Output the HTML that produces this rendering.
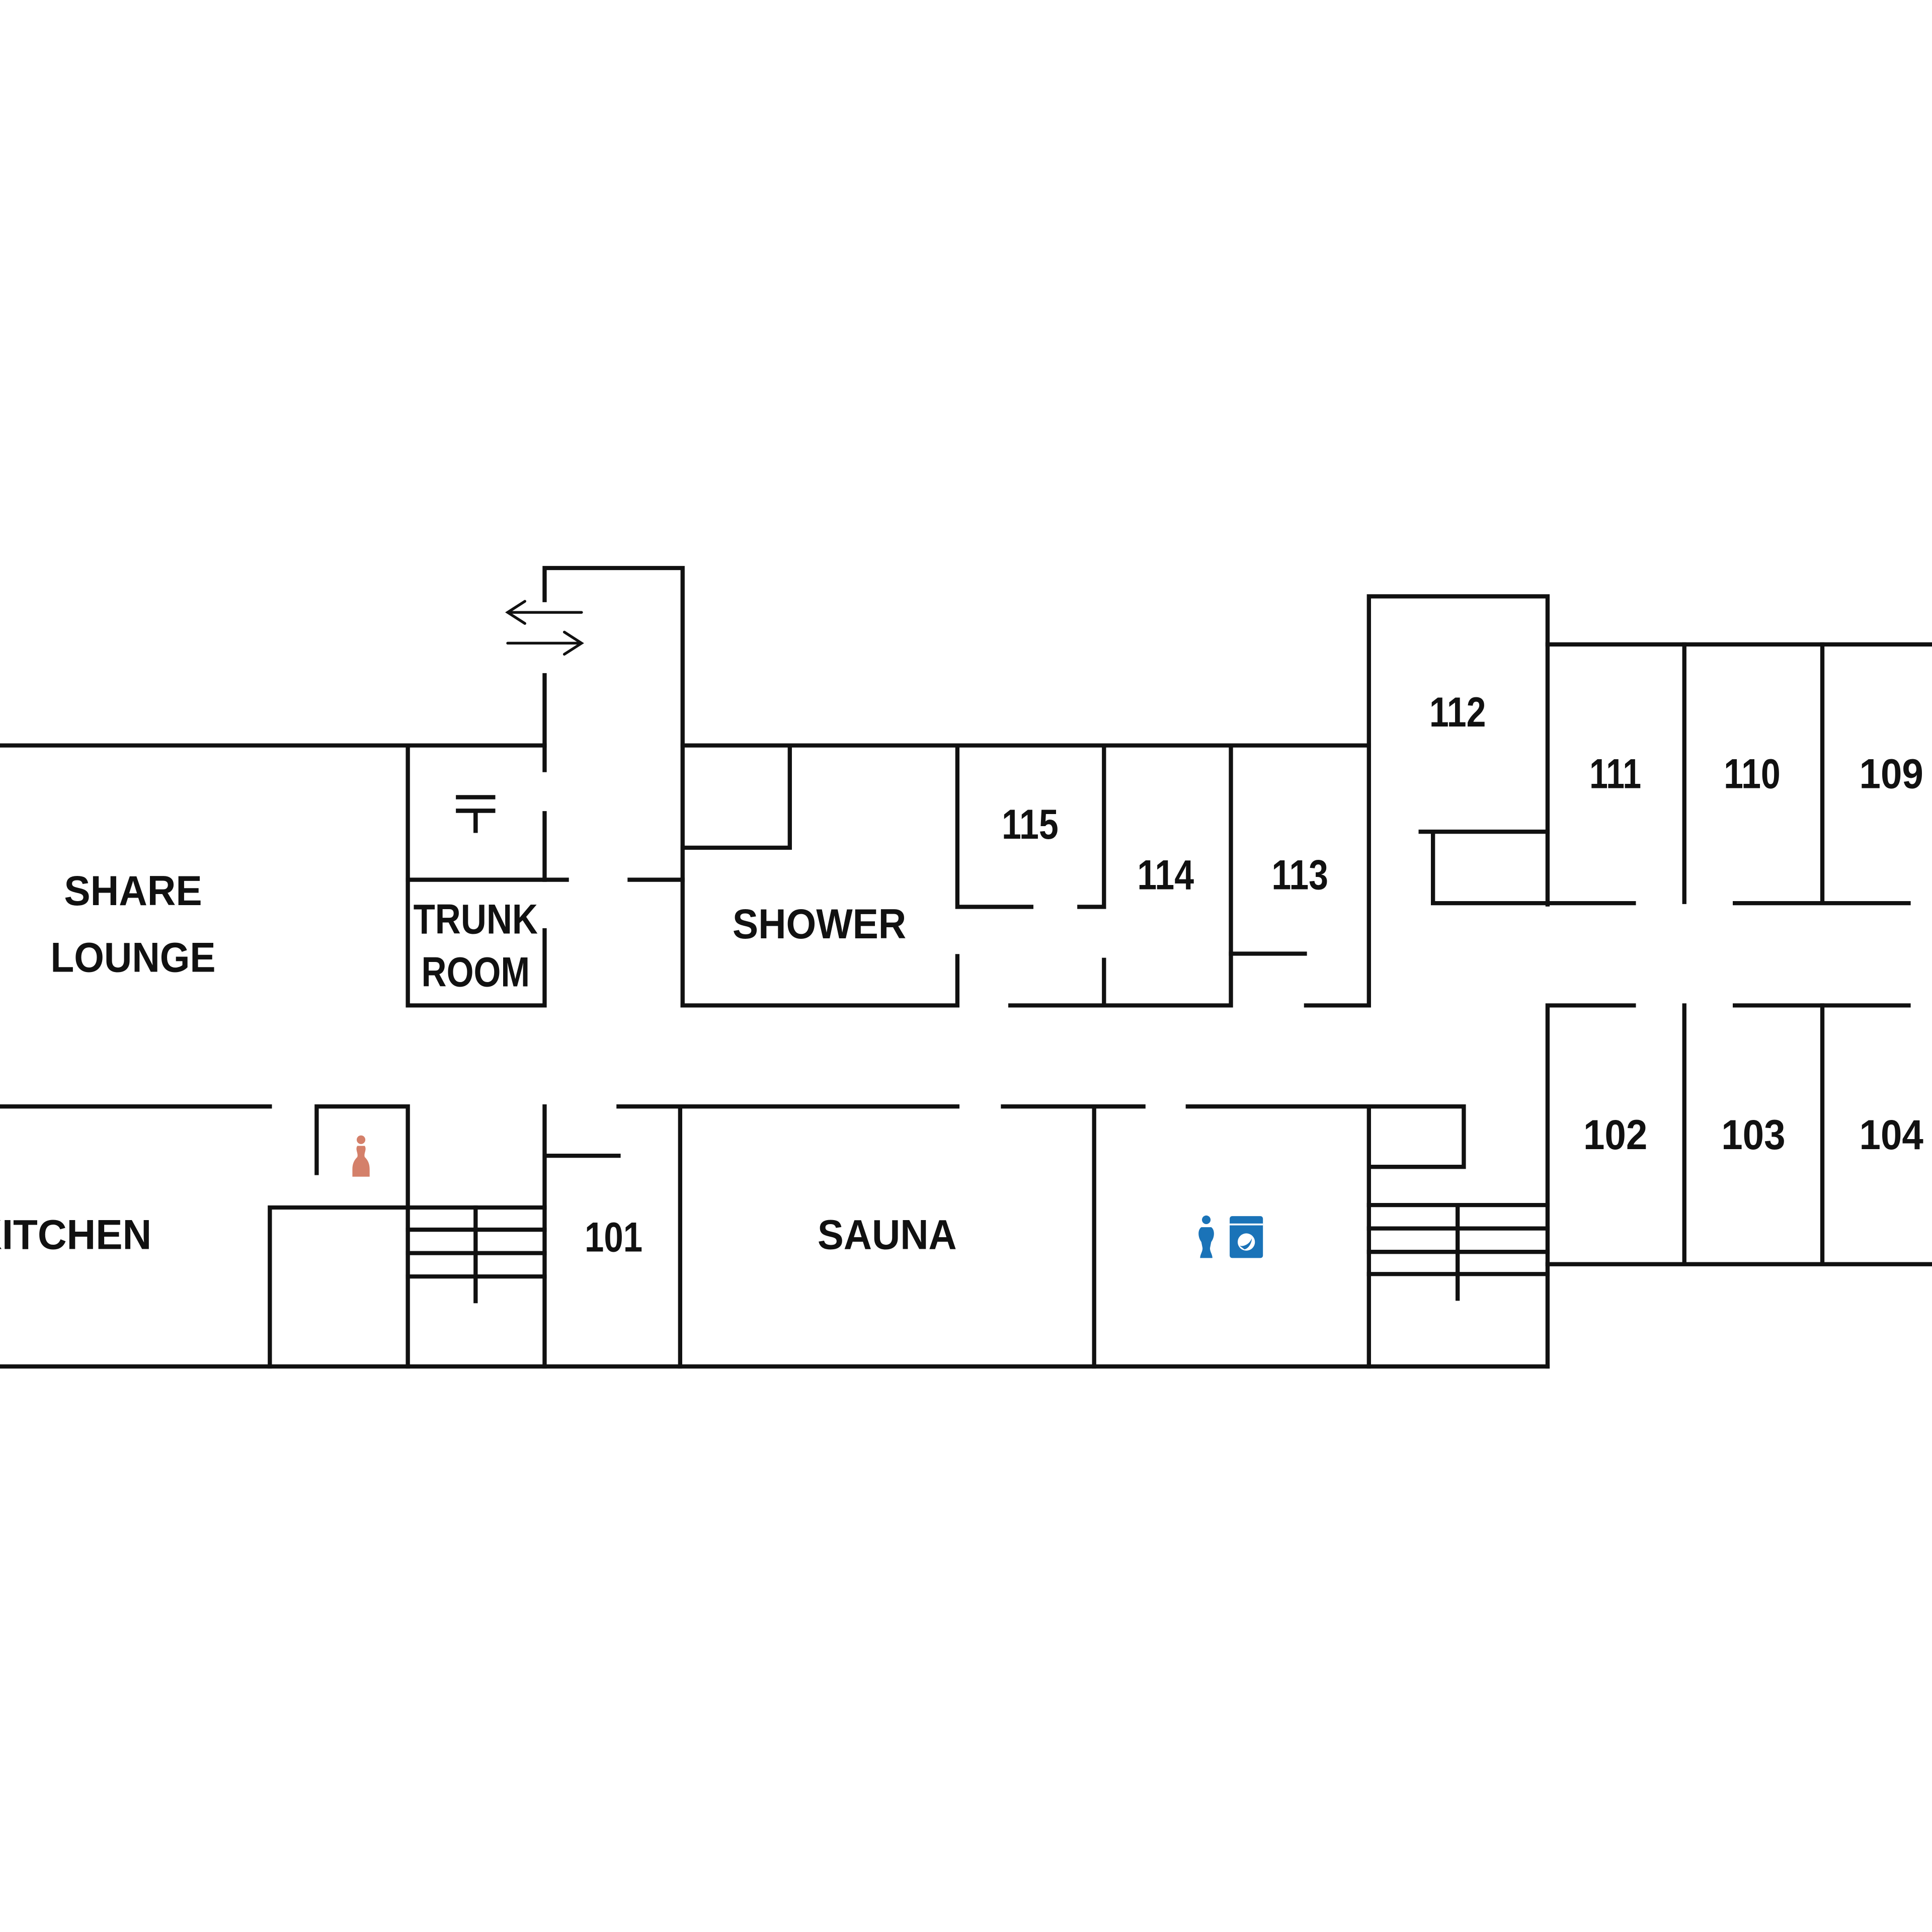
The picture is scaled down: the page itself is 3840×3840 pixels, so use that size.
<!DOCTYPE html>
<html><head><meta charset="utf-8"><style>
html,body{margin:0;padding:0;background:#fff;}
svg{display:block;}
text{font-family:"Liberation Sans Narrow","Liberation Sans",sans-serif;font-weight:bold;fill:#111;text-anchor:middle;dominant-baseline:central;}
</style></head><body>
<svg width="3840" height="3840" viewBox="0 0 1568 1568" xmlns="http://www.w3.org/2000/svg">
<rect width="1568" height="1568" fill="#fff"/>
<g stroke="#111" stroke-width="3.4" fill="none" stroke-linecap="square">
<path d="M0 605H442"/>
<path d="M442 487V461H554V816"/>
<path d="M442 548V625M442 660V714"/>
<path d="M331 605V816H442V755"/>
<path d="M331 714H460M511 714H554"/>
<path d="M554 605H1111"/>
<path d="M554 688H641V605"/>
<path d="M554 816H777V776"/>
<path d="M777 605V736H837"/>
<path d="M896 605V736H876"/>
<path d="M820 816H999V605"/>
<path d="M896 779V816"/>
<path d="M999 774H1059"/>
<path d="M1060 816H1111V484H1256V734"/>
<path d="M1256 523H1568"/>
<path d="M1153 675H1256M1163 675V733H1326"/>
<path d="M1367 523V732M1479 523V733M1408 733H1549"/>
<path d="M1326 816H1256V1109M1408 816H1549"/>
<path d="M1367 816V1026M1479 816V1026M1256 1026H1568"/>
<path d="M0 898H219"/>
<path d="M257 952V898H331V1109"/>
<path d="M219 1109V980H442"/>
<path d="M331 998H442M331 1017H442M331 1036H442M386 980V1056"/>
<path d="M442 898V1109M442 938H502"/>
<path d="M502 898H777M552 898V1109"/>
<path d="M814 898H928M888 898V1109"/>
<path d="M964 898H1188V947H1111M1111 898V1109"/>
<path d="M1111 978H1256M1111 997H1256M1111 1016H1256M1111 1034H1256M1183 978V1054"/>
<path d="M0 1109H1256"/>
</g>
<g stroke="#111" stroke-width="2.2" fill="none" stroke-linecap="round">
<path d="M412 497H472M426 488L412 497L426 506"/>
<path d="M412 522H472M458 513L472 522L458 531"/>
</g>
<g stroke="#111" stroke-width="3.5" fill="none">
<path d="M370 647H402M370 658H402M386 658V676"/>
</g>
<g font-size="34" lengthAdjust="spacingAndGlyphs">
<text x="108" y="723" textLength="112" lengthAdjust="spacingAndGlyphs">SHARE</text>
<text x="108" y="777" textLength="134" lengthAdjust="spacingAndGlyphs">LOUNGE</text>
<text x="665" y="750" textLength="141" lengthAdjust="spacingAndGlyphs">SHOWER</text>
<text x="720" y="1002" textLength="113" lengthAdjust="spacingAndGlyphs">SAUNA</text>
<text x="-22" y="1002" textLength="145" lengthAdjust="spacingAndGlyphs" style="text-anchor:start">KITCHEN</text>
<text x="386" y="746" textLength="101" lengthAdjust="spacingAndGlyphs">TRUNK</text>
<text x="386" y="789" textLength="88" lengthAdjust="spacingAndGlyphs">ROOM</text>
<text x="498" y="1004" textLength="47" lengthAdjust="spacingAndGlyphs">101</text>
<text x="836" y="669" textLength="46" lengthAdjust="spacingAndGlyphs">115</text>
<text x="946" y="710" textLength="46" lengthAdjust="spacingAndGlyphs">114</text>
<text x="1055" y="710" textLength="46" lengthAdjust="spacingAndGlyphs">113</text>
<text x="1183" y="578" textLength="46" lengthAdjust="spacingAndGlyphs">112</text>
<text x="1311" y="628" textLength="42" lengthAdjust="spacingAndGlyphs">111</text>
<text x="1422" y="628" textLength="46" lengthAdjust="spacingAndGlyphs">110</text>
<text x="1535" y="628" textLength="52" lengthAdjust="spacingAndGlyphs">109</text>
<text x="1311" y="921" textLength="52" lengthAdjust="spacingAndGlyphs">102</text>
<text x="1423" y="921" textLength="52" lengthAdjust="spacingAndGlyphs">103</text>
<text x="1535" y="921" textLength="52" lengthAdjust="spacingAndGlyphs">104</text>
</g>
<g fill="#d4806a">
<circle cx="293" cy="925" r="3.5"/>
<path d="M290 930h6c2 3 -1 6 0 9c3 3 4 6 4 10v6h-14v-6c0-4 1-7 4-10c1-3 -2-6 0-9z"/>
</g>
<g fill="#1a73b8">
<circle cx="979" cy="990" r="3.5"/>
<path d="M975 996h8c3 2 3 8 0 12l-1 5c0 3 2 5 2 8h-10c0-3 2-5 2-8l-1-5c-3-4-3-10 0-12z"/>
<rect x="998" y="987" width="27" height="34" rx="2"/>
<rect x="998" y="993" width="27" height="1.5" fill="#fff"/>
<circle cx="1011.5" cy="1008" r="7" fill="#fff"/>
<path d="M1006 1011c3 1 8 -1 10 -6c0 3 -2 8 -6 9z"/>
</g>
</svg>
</body></html>
